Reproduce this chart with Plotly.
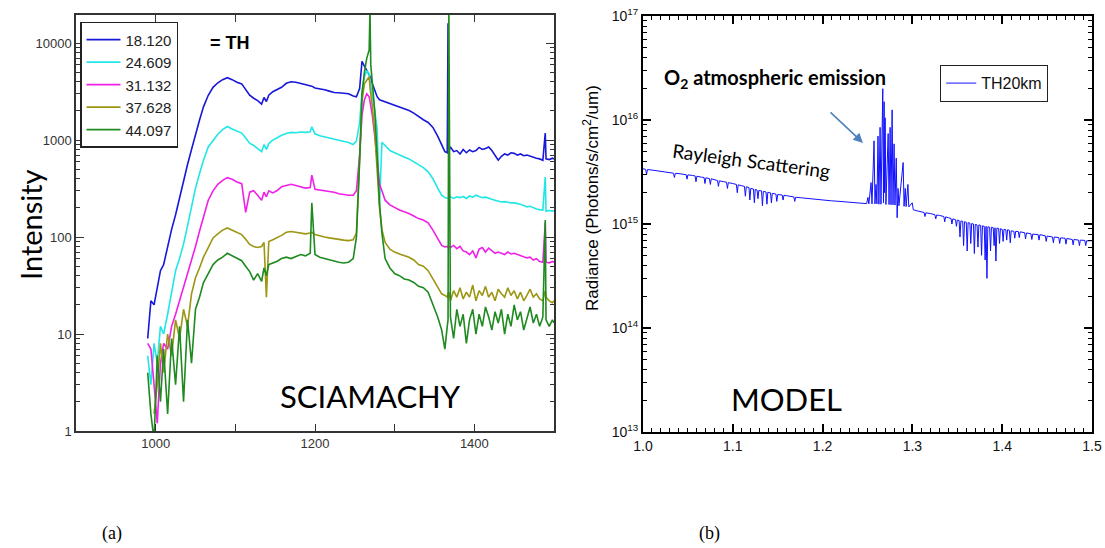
import plotly.graph_objects as go

# ---------------- Panel (a): SCIAMACHY limb spectra ----------------
wavelength_nm = [
    990, 994, 998, 1002, 1006, 1010, 1015, 1020, 1025, 1030,
    1035, 1040, 1045, 1050, 1055, 1060, 1066, 1072, 1078, 1084,
    1090, 1096, 1102, 1108, 1113, 1118, 1123, 1128, 1133, 1136,
    1139, 1142, 1147, 1152, 1158, 1164, 1170, 1176, 1182, 1188,
    1194, 1196, 1200, 1206, 1212, 1218, 1224, 1230, 1236, 1242,
    1248, 1252, 1256, 1259, 1262, 1265, 1268, 1269, 1270, 1272,
    1275, 1278, 1281, 1284, 1288, 1294, 1300, 1306, 1312, 1318,
    1324, 1330, 1336, 1342, 1348, 1354, 1359, 1363, 1366, 1367,
    1368, 1370, 1374, 1378, 1382, 1386, 1390, 1394, 1398, 1402,
    1406, 1410, 1414, 1418, 1422, 1426, 1430, 1434, 1438, 1442,
    1446, 1450, 1454, 1458, 1462, 1466, 1470, 1474, 1478, 1482,
    1486, 1489, 1490, 1494, 1498, 1500,
]

th_18_120 = [
    9, 22, 20, 30, 45, 52, 80, 120, 170, 260,
    380, 560, 800, 1150, 1600, 2200, 2900, 3500, 3900, 4200,
    4400, 4200, 3950, 3800, 3300, 2900, 2700, 2550, 2350, 2750,
    2500, 2900, 3150, 3300, 3500, 3850, 4000, 3950, 3850, 3750,
    3650, 3600, 3450, 3400, 3300, 3200, 3100, 3080, 3050, 3000,
    2850, 2800, 3400, 6500, 5800, 5200, 4800, 4600, 4400, 3800,
    3200, 2800, 2600, 2550, 2450, 2350, 2280, 2200, 2100, 2020,
    1900, 1750, 1620, 1520, 1350, 1100, 900, 760, 740, 16000,
    780, 850, 760, 780, 720, 800, 740, 790, 760, 780,
    840, 800, 820, 850, 780, 700, 620, 680, 720, 700,
    740, 730, 700, 720, 690, 700, 680, 660, 650, 640,
    620, 1180, 640, 630, 650, 640,
]

th_24_609 = [
    6, 3, 8, 5, 12, 10, 16, 26, 45, 60,
    85, 130, 210, 320, 450, 620, 850, 1000, 1150, 1280,
    1380, 1300, 1230, 1180, 1050, 930, 880, 820, 760, 900,
    800, 920, 1000, 1050, 1120, 1170, 1200, 1190, 1210, 1200,
    1220, 1370, 1160, 1110, 1080, 1050, 1010, 980, 960, 945,
    900, 980, 1500, 3200, 4500, 5200, 4800, 4300, 3800, 2800,
    2000, 1300, 210, 950, 880, 780, 740, 700, 670, 640,
    600, 560, 520, 470, 400, 320, 270, 255, 250, 250,
    255, 260, 250, 260, 255, 262, 250, 265, 258, 270,
    262, 255, 258, 250, 245, 240, 235, 230, 232, 228,
    225, 225, 222, 218, 212, 205, 208, 200, 195, 192,
    190, 415, 185, 188, 185, 185,
]

th_31_132 = [
    8, 7, 3, 1.2, 5, 8, 7, 12, 16, 22,
    30, 40, 55, 80, 115, 160, 240, 300, 350, 385,
    410, 395, 370, 355, 180, 290, 300, 270, 240, 290,
    260, 300, 285, 300, 330, 340, 350, 340, 330, 320,
    325, 435, 310, 305, 300, 295, 290, 280, 275, 270,
    270, 300, 700, 1800, 2600, 3000, 2800, 2500, 2200, 1800,
    1100, 600, 350, 300, 240, 215, 200, 190, 182, 175,
    165, 155, 150, 140, 118, 95, 82, 79, 80, 78,
    80, 78, 82, 76, 80, 72, 70, 66, 72, 61,
    75, 78, 70, 77, 72, 68, 70, 68, 66, 70,
    67, 68, 66, 64, 63, 61, 62, 58, 60, 56,
    55, 140, 55, 54, 56, 55,
]

th_37_628 = [
    None, None, 1.5, 3, 8, 4, 10, 6, 14, 9,
    18, 12, 26, 38, 48, 62, 78, 98, 108, 118,
    124, 118, 112, 106, 95, 84, 80, 78, 80, 88,
    24, 90, 94, 98, 104, 112, 114, 112, 110, 108,
    110, 112, 106, 102, 100, 98, 96, 95, 93, 92,
    94, 110, 600, 2500, 3800, 4200, 4500, 3500, 3000, 2200,
    1200, 500, 200, 120, 88, 75, 70, 67, 64, 62,
    58, 52, 50, 45, 37, 30, 26, 25, 24, 26,
    27, 22, 28, 24, 30, 23, 27, 24, 32, 22,
    28, 25, 31, 24, 27, 22, 29, 26, 24, 30,
    25, 28, 23, 27, 22, 25, 29, 24, 26, 23,
    22, 28, 24, 22, 21, 22,
]

th_44_097 = [
    4, 1.5, 0.8, 6, 2, 7, 1.5, 9, 3, 12,
    2, 14, 5, 18, 24, 34, 42, 52, 58, 62,
    68, 64, 60, 57, 50, 44, 36, 42, 35, 48,
    40, 52, 54, 56, 60, 62, 60, 63, 66, 64,
    68, 225, 66, 62, 60, 58, 57, 55, 54, 55,
    60, 100, 600, 3000, 5000, 7000, 8500, 22000, 6000, 4000,
    2000, 700, 220, 110, 60, 48, 42, 40, 37, 36,
    34, 31, 30, 27, 20, 15, 11, 7, 12, 14,
    22000, 15, 9, 18, 12, 16, 8, 14, 18, 10,
    16, 12, 19, 15, 11, 17, 13, 18, 10, 16,
    12, 20, 14, 17, 11, 15, 19, 13, 16, 12,
    15, 150, 14, 12, 14, 13,
]

series_labels = ["18.120", "24.609", "31.132", "37.628", "44.097"]
series_values = [th_18_120, th_24_609, th_31_132, th_37_628, th_44_097]
series_colors = ["#1818d8", "#22e6e6", "#f020e8", "#9c9612", "#1f8a1f"]

intensity_ticks = [1, 10, 100, 1000, 10000]
wl_ticks = [1000, 1200, 1400]

# ---------------- Panel (b): model radiance TH 20 km ----------------
model_wl_um = [
    1.000, 1.003, 1.004, 1.005, 1.010, 1.015, 1.020, 1.025, 1.030, 1.034,
    1.035, 1.036, 1.040, 1.045, 1.048, 1.049, 1.050, 1.055, 1.058, 1.059,
    1.060, 1.065, 1.068, 1.069, 1.070, 1.074, 1.075, 1.076, 1.080, 1.083,
    1.084, 1.085, 1.090, 1.093, 1.094, 1.095, 1.100, 1.104, 1.105, 1.106,
    1.110, 1.113, 1.114, 1.115, 1.118, 1.119, 1.120, 1.123, 1.124, 1.125,
    1.127, 1.128, 1.129, 1.132, 1.133, 1.134, 1.137, 1.138, 1.139, 1.142,
    1.143, 1.144, 1.148, 1.149, 1.150, 1.155, 1.156, 1.157, 1.160, 1.165,
    1.168, 1.169, 1.170, 1.175, 1.180, 1.185, 1.190, 1.195, 1.200, 1.205,
    1.210, 1.215, 1.220, 1.225, 1.230, 1.235, 1.240, 1.245, 1.249, 1.2505,
    1.2515, 1.254, 1.255, 1.2573, 1.2583, 1.2595, 1.2605, 1.2617, 1.2627, 1.264,
    1.265, 1.267, 1.2678, 1.2685, 1.269, 1.2696, 1.2705, 1.273, 1.274, 1.2752,
    1.2762, 1.2774, 1.2784, 1.2796, 1.2806, 1.282, 1.283, 1.284, 1.285, 1.2897,
    1.2907, 1.292, 1.293, 1.295, 1.296, 1.2998, 1.301, 1.305, 1.310, 1.313,
    1.314, 1.315, 1.320, 1.325, 1.326, 1.327, 1.330, 1.335, 1.336, 1.337,
    1.340, 1.343, 1.344, 1.345, 1.348, 1.349, 1.350, 1.352, 1.353, 1.354,
    1.356, 1.357, 1.358, 1.360, 1.361, 1.362, 1.364, 1.365, 1.366, 1.368,
    1.369, 1.370, 1.372, 1.373, 1.374, 1.376, 1.377, 1.378, 1.380, 1.381,
    1.382, 1.383, 1.384, 1.386, 1.387, 1.388, 1.390, 1.391, 1.392, 1.393,
    1.394, 1.396, 1.397, 1.398, 1.400, 1.401, 1.402, 1.404, 1.405, 1.406,
    1.408, 1.409, 1.410, 1.413, 1.414, 1.415, 1.418, 1.419, 1.420, 1.425,
    1.426, 1.427, 1.432, 1.433, 1.434, 1.440, 1.441, 1.442, 1.448, 1.449,
    1.450, 1.456, 1.457, 1.458, 1.463, 1.464, 1.465, 1.470, 1.471, 1.472,
    1.478, 1.479, 1.480, 1.485, 1.486, 1.487, 1.492, 1.493, 1.494, 1.500,
]

model_radiance = [
    3.4e15, 3.35e15, 3.0e15, 3.34e15, 3.3e15, 3.25e15, 3.2e15, 3.15e15, 3.1e15, 3.08e15,
    2.8e15, 3.07e15, 3.05e15, 3.0e15, 2.98e15, 2.7e15, 2.97e15, 2.93e15, 2.9e15, 2.55e15,
    2.88e15, 2.82e15, 2.8e15, 2.45e15, 2.78e15, 2.73e15, 2.4e15, 2.72e15, 2.65e15, 2.62e15,
    2.3e15, 2.6e15, 2.55e15, 2.52e15, 2.2e15, 2.5e15, 2.45e15, 2.4e15, 2.0e15, 2.38e15,
    2.33e15, 2.3e15, 1.85e15, 2.28e15, 2.24e15, 1.7e15, 2.2e15, 2.17e15, 1.6e15, 2.15e15,
    2.12e15, 1.75e15, 2.1e15, 2.08e15, 1.5e15, 2.06e15, 2.03e15, 1.55e15, 2.02e15, 1.99e15,
    1.6e15, 1.97e15, 1.94e15, 1.65e15, 1.92e15, 1.9e15, 1.7e15, 1.89e15, 1.87e15, 1.84e15,
    1.82e15, 1.65e15, 1.81e15, 1.79e15, 1.77e15, 1.75e15, 1.72e15, 1.71e15, 1.7e15, 1.68e15,
    1.67e15, 1.66e15, 1.65e15, 1.63e15, 1.62e15, 1.61e15, 1.59e15, 1.58e15, 1.57e15, 1.8e15,
    1.56e15, 2.5e15, 1.56e15, 6.3e15, 1.56e15, 2.4e15, 1.56e15, 7.0e15, 1.55e15, 8.5e15,
    1.55e15, 2.0e16, 1.6e15, 1.5e16, 2.0e15, 1.05e16, 1.54e15, 7.4e15, 1.54e15, 8.5e15,
    1.53e15, 1.25e16, 1.53e15, 5.9e15, 1.52e15, 4.3e15, 1.15e15, 2.2e15, 1.5e15, 3.9e15,
    1.48e15, 2.2e15, 1.47e15, 2.4e15, 1.46e15, 1.6e15, 1.37e15, 1.34e15, 1.31e15, 1.29e15,
    1.18e15, 1.28e15, 1.26e15, 1.23e15, 1.12e15, 1.22e15, 1.21e15, 1.18e15, 1.05e15, 1.17e15,
    1.15e15, 1.13e15, 1.0e15, 1.12e15, 1.1e15, 9.5e14, 1.09e15, 1.08e15, 7.5e14, 1.07e15,
    1.06e15, 6.2e14, 1.05e15, 1.04e15, 5.5e14, 1.03e15, 1.02e15, 6.5e14, 1.01e15, 1.0e15,
    5.2e14, 9.9e14, 9.8e14, 6.0e14, 9.8e14, 9.7e14, 5.0e14, 9.6e14, 9.5e14, 4.5e14,
    9.5e14, 3.0e14, 9.4e14, 9.3e14, 5.5e14, 9.3e14, 9.2e14, 6.2e14, 9.2e14, 4.4e14,
    9.1e14, 9.1e14, 6.5e14, 9.0e14, 8.9e14, 6.8e14, 8.9e14, 8.8e14, 7.0e14, 8.8e14,
    8.7e14, 6.6e14, 8.6e14, 8.5e14, 7.3e14, 8.5e14, 8.45e14, 7.4e14, 8.4e14, 8.25e14,
    7.2e14, 8.2e14, 8.05e14, 7.1e14, 8.0e14, 7.9e14, 7.0e14, 7.9e14, 7.7e14, 6.8e14,
    7.65e14, 7.5e14, 6.6e14, 7.5e14, 7.4e14, 6.5e14, 7.35e14, 7.3e14, 6.4e14, 7.25e14,
    7.1e14, 6.3e14, 7.1e14, 7.0e14, 6.2e14, 7.0e14, 6.95e14, 6.2e14, 6.9e14, 6.9e14,
]

radiance_ticks = [1e13, 1e14, 1e15, 1e16, 1e17]
radiance_tick_text = ["10<sup>13</sup>", "10<sup>14</sup>", "10<sup>15</sup>",
                      "10<sup>16</sup>", "10<sup>17</sup>"]
model_wl_ticks = [1.0, 1.1, 1.2, 1.3, 1.4, 1.5]

fig = go.Figure()

for label, vals, col in zip(series_labels, series_values, series_colors):
    fig.add_trace(go.Scatter(
        x=wavelength_nm, y=vals, name=label, mode="lines",
        line=dict(color=col, width=1.6), xaxis="x", yaxis="y",
        legend="legend", connectgaps=False,
    ))

fig.add_trace(go.Scatter(
    x=model_wl_um, y=model_radiance, name="TH20km", mode="lines",
    line=dict(color="#1010ff", width=1), xaxis="x2", yaxis="y2",
    legend="legend2",
))

axis_font = dict(family="Liberation Sans, Arial", size=13, color="#333333")
right_font = dict(family="Liberation Sans, Arial", size=14, color="#111111")

fig.update_layout(
    width=1105, height=548,
    margin=dict(l=0, r=0, t=0, b=0, autoexpand=False),
    paper_bgcolor="white", plot_bgcolor="white",
    showlegend=True,
    xaxis=dict(
        domain=[0.06878, 0.50136], range=[900, 1500], anchor="y", automargin=False,
        tickvals=wl_ticks, ticktext=[str(v) for v in wl_ticks],
        ticks="inside", ticklen=7, tickwidth=1.2, tickcolor="#333",
        minor=dict(tickmode="linear", tick0=1000, dtick=100, ticks="inside", ticklen=7,
                   tickwidth=1.2, tickcolor="#333", showgrid=False),
        showline=True, linecolor="#333", linewidth=1.5, mirror="ticks",
        showgrid=False, zeroline=False, tickfont=axis_font,
    ),
    yaxis=dict(
        domain=[0.21350, 0.97263], type="log", range=[0, 4.29], anchor="x",
        automargin=False,
        tickvals=intensity_ticks, ticktext=[str(v) for v in intensity_ticks],
        ticks="inside", ticklen=8, tickwidth=1.2, tickcolor="#333",
        minor=dict(dtick="D1", ticks="inside", ticklen=4,
                   tickwidth=1, tickcolor="#333", showgrid=False),
        showline=True, linecolor="#333", linewidth=1.5, mirror="ticks",
        showgrid=False, zeroline=False, tickfont=axis_font,
    ),
    xaxis2=dict(
        domain=[0.58190, 0.98824], range=[1.0, 1.5], anchor="y2", automargin=False,
        tickvals=model_wl_ticks, ticktext=["%.1f" % v for v in model_wl_ticks],
        ticks="inside", ticklen=8, tickwidth=1.5, tickcolor="black",
        minor=dict(tickmode="linear", tick0=1.0, dtick=0.01, ticks="inside", ticklen=4,
                   tickwidth=1.2, tickcolor="black", showgrid=False),
        showline=True, linecolor="black", linewidth=2, mirror="ticks",
        showgrid=False, zeroline=False, tickfont=right_font,
    ),
    yaxis2=dict(
        domain=[0.21168, 0.97080], type="log", range=[13, 17], anchor="x2",
        automargin=False,
        tickvals=radiance_ticks, ticktext=radiance_tick_text,
        ticks="inside", ticklen=8, tickwidth=1.5, tickcolor="black",
        minor=dict(dtick="D1", ticks="inside", ticklen=4,
                   tickwidth=1.2, tickcolor="black", showgrid=False),
        showline=True, linecolor="black", linewidth=2, mirror="ticks",
        showgrid=False, zeroline=False, tickfont=right_font,
    ),
    legend=dict(
        x=0.0724, y=0.96, xanchor="left", yanchor="top",
        bordercolor="#222", borderwidth=1.5, bgcolor="white",
        font=dict(family="Liberation Sans, Arial", size=15, color="#222"),
        tracegroupgap=0, itemwidth=34,
    ),
    legend2=dict(
        x=0.8507, y=0.8814, xanchor="left", yanchor="top",
        bordercolor="#222", borderwidth=1.2, bgcolor="white",
        font=dict(family="Liberation Sans, Arial", size=16, color="#111"),
        itemwidth=30,
    ),
)

annotations = [
    dict(text="= TH", x=208 / 1105, y=1 - 43 / 548, xref="paper", yref="paper",
         xanchor="left", yanchor="middle", showarrow=False,
         font=dict(family="Liberation Sans, Arial", size=18, color="black", weight="bold")),
    dict(text="Intensity", x=30 / 1105, y=1 - 225 / 548, xref="paper", yref="paper",
         xanchor="center", yanchor="middle", showarrow=False, textangle=-90,
         font=dict(family="Lato", size=29, color="black")),
    dict(text="SCIAMACHY", x=370 / 1105, y=1 - 396 / 548, xref="paper", yref="paper",
         xanchor="center", yanchor="middle", showarrow=False,
         font=dict(family="Lato", size=31, color="black")),
    dict(text="MODEL", x=786 / 1105, y=1 - 399 / 548, xref="paper", yref="paper",
         xanchor="center", yanchor="middle", showarrow=False,
         font=dict(family="Lato", size=31, color="black")),
    dict(text="O<sub>2</sub> atmospheric emission", x=662 / 1105, y=1 - 78 / 548,
         xref="paper", yref="paper", xanchor="left", yanchor="middle", showarrow=False,
         font=dict(family="Lato", size=20, color="black", weight="bold")),
    dict(text="Rayleigh Scattering", x=751 / 1105, y=1 - 160 / 548,
         xref="paper", yref="paper", xanchor="center", yanchor="middle",
         showarrow=False, textangle=7.5,
         font=dict(family="Lato", size=19, color="black")),
    dict(text="", x=1.245, y=15.78, xref="x2", yref="y2", showarrow=True,
         ax=-34, ay=-32, arrowhead=2, arrowsize=1.2, arrowwidth=1.6,
         arrowcolor="#4f81bd"),
    dict(text="Radiance (Photons/s/cm<sup>2</sup>/um)", x=591 / 1105, y=1 - 198 / 548,
         xref="paper", yref="paper", xanchor="center", yanchor="middle",
         showarrow=False, textangle=-90,
         font=dict(family="Liberation Sans, Arial", size=17, color="black")),
    dict(text="(a)", x=112 / 1105, y=1 - 533 / 548, xref="paper", yref="paper",
         xanchor="center", yanchor="middle", showarrow=False,
         font=dict(family="Liberation Serif", size=18, color="black")),
    dict(text="(b)", x=709 / 1105, y=1 - 533 / 548, xref="paper", yref="paper",
         xanchor="center", yanchor="middle", showarrow=False,
         font=dict(family="Liberation Serif", size=18, color="black")),
]
fig.update_layout(annotations=annotations)

fig.write_html(
    "out.html",
    config={"displayModeBar": False},
    post_script="document.body.style.margin='0px';document.body.style.overflow='hidden';",
)
